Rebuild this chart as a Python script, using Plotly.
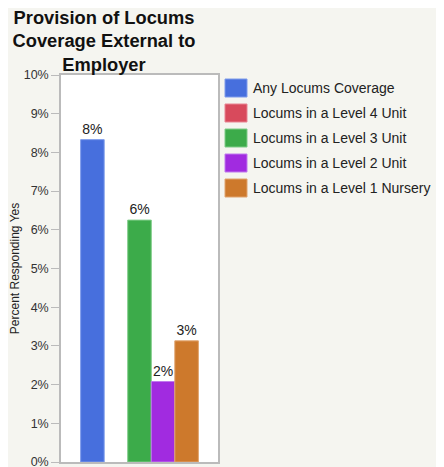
import plotly.graph_objects as go

# ---- data ----
categories = [""]
series_names = [
    "Any Locums Coverage",
    "Locums in a Level 4 Unit",
    "Locums in a Level 3 Unit",
    "Locums in a Level 2 Unit",
    "Locums in a Level 1 Nursery",
]
series_values = [8.33, 0.0, 6.25, 2.08, 3.13]
series_colors = ["#476fdd", "#d84a5c", "#3cab4a", "#a12be0", "#cd792c"]
series_edges = ["#7f9ceb", "#e88593", "#7fcc88", "#c07aee", "#e0a46e"]
tick_values = [0, 1, 2, 3, 4, 5, 6, 7, 8, 9, 10]
tick_labels = ["0%", "1%", "2%", "3%", "4%", "5%", "6%", "7%", "8%", "9%", "10%"]
title_text = "<b>Provision of Locums<br>Coverage External to<br>Employer</b>"
y_title = "Percent Responding Yes"

# page body has an 8px margin; build the figure in page coordinates shifted by it
OFF = 8
W, H = 444 - OFF, 467 - OFF
PLOT_L, PLOT_R, PLOT_T, PLOT_B = 61, 218, 75, 462  # page pixels
ML, MR, MT, MB = PLOT_L - OFF, W - (PLOT_R - OFF), PLOT_T - OFF, H - (PLOT_B - OFF)
PW, PH = W - ML - MR, H - MT - MB
FONT = "Liberation Sans, Arial, Helvetica, sans-serif"


def px2x(px):
    return (px - PLOT_L) / PW


def px2y(py):
    return (PLOT_B - py) / PH


fig = go.Figure()
for name, val, col, edge in zip(series_names, series_values, series_colors, series_edges):
    fig.add_trace(go.Bar(
        x=categories,
        y=[val],
        name=name,
        marker=dict(color=col, line=dict(color=edge, width=1 if val > 0 else 0)),
        text=[f"{val:.0f}%" if val > 0 else ""],
        textposition="outside",
        textfont=dict(size=14, color="#222222", family=FONT),
        cliponaxis=False,
        constraintext="none",
        showlegend=False,
    ))

# legend drawn as swatches + labels
for i, (name, col, edge) in enumerate(zip(series_names, series_colors, series_edges)):
    yc = 88 + 25 * i
    fig.add_shape(type="rect", xref="paper", yref="paper",
                  x0=px2x(225), x1=px2x(247), y0=px2y(yc + 9), y1=px2y(yc - 9),
                  fillcolor=col, line=dict(color=edge, width=1), layer="above")
    fig.add_annotation(xref="paper", yref="paper", x=px2x(251), y=px2y(yc),
                       xanchor="left", yanchor="middle", text=name, showarrow=False,
                       font=dict(size=14, color="#222222", family=FONT))

fig.update_layout(
    width=W, height=H,
    margin=dict(l=ML, r=MR, t=MT, b=MB, autoexpand=False),
    paper_bgcolor="#f5f5f0",
    plot_bgcolor="#ffffff",
    barmode="group",
    bargap=0.25,
    bargroupgap=0,
    font=dict(family=FONT, color="#333333"),
    title=dict(text=title_text, x=(104 - OFF) / W, xanchor="center", xref="container",
               y=1 - (23.5 - OFF) / H, yanchor="middle", yref="container",
               font=dict(size=18.3, color="#111111", family=FONT)),
    showlegend=False,
)
fig.update_xaxes(showline=True, linecolor="#bbbbbb", linewidth=1.5, mirror=True,
                 showticklabels=False, ticks="", showgrid=False, zeroline=False,
                 automargin=False)
fig.update_yaxes(range=[0, 10], tickvals=tick_values, ticktext=tick_labels,
                 showline=True, linecolor="#bbbbbb", linewidth=1.5, mirror=True,
                 ticks="outside", ticklen=8, tickcolor="#bbbbbb", tickwidth=1,
                 showgrid=False, zeroline=False, ticklabeloverflow="allow",
                 automargin=False,
                 tickfont=dict(size=12.5, color="#333333", family=FONT),
                 title=dict(text=y_title, standoff=10,
                            font=dict(size=12, color="#222222", family=FONT)))

fig.write_html("out.html")
